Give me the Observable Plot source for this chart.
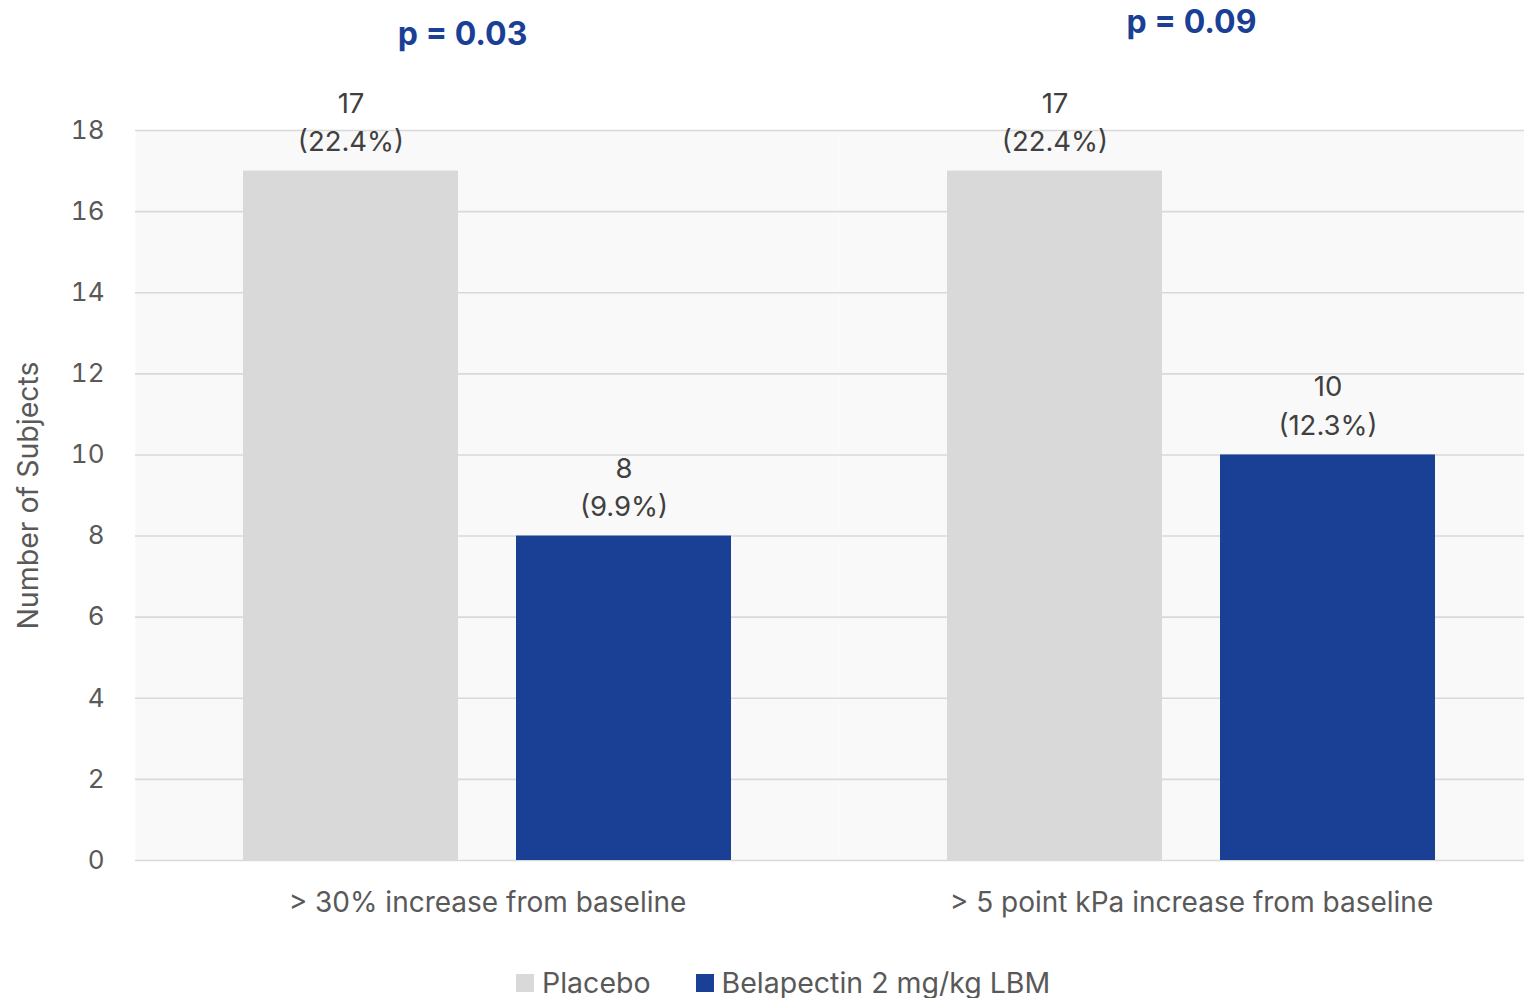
<!DOCTYPE html>
<html>
<head>
<meta charset="utf-8">
<script src="https://cdn.jsdelivr.net/npm/d3@7"></script>
<script src="https://cdn.jsdelivr.net/npm/@observablehq/plot@0.6"></script>
<style>
  html, body { margin: 0; padding: 0; background: #fff; overflow: hidden; }
  #wrap { width: 1524px; overflow: hidden; }
  #wrap svg { max-width: none !important; }
  #legend { display: flex; align-items: center; font-family: Inter, sans-serif; font-size: 28.5px; color: #595959; margin-left: 516px; margin-top: 25px; }
  .sw { width: 18px; height: 18px; display: inline-block; margin-right: 8px; }
  .item { display: flex; align-items: center; margin-right: 45px; }
</style>
</head>
<body>
<div id="wrap"><div id="chart"></div></div>
<div id="legend"></div>
<script>
const groups = ["> 30% increase from baseline", "> 5 point kPa increase from baseline"];
const series = ["Placebo", "Belapectin 2 mg/kg LBM"];
const colors = ["#d9d9d9", "#1a4096"];
const placeboCounts = [17, 17];
const belapectinCounts = [8, 10];
const placeboPct = [22.4, 22.4];
const belapectinPct = [9.9, 12.3];
const pValues = ["p = 0.03", "p = 0.09"];
const yTicks = [0, 2, 4, 6, 8, 10, 12, 14, 16, 18];
const yTitle = "Number of Subjects";

const rows = [];
groups.forEach((g, i) => {
  rows.push({group: g, series: series[0], value: placeboCounts[i], pct: placeboPct[i]});
  rows.push({group: g, series: series[1], value: belapectinCounts[i], pct: belapectinPct[i]});
});
rows.forEach(d => d.label = `${d.value}\n(${d.pct.toFixed(1)}%)`);
const pRows = groups.map((g, i) => ({group: g, p: pValues[i]}));

const font = "Inter, sans-serif";
const chart = Plot.plot({
  width: 1543,
  height: 940,
  marginLeft: 134,
  marginRight: 0,
  marginTop: 130,
  marginBottom: 80,
  style: {fontFamily: font, fontSize: "26px", color: "#595959", background: "transparent", overflow: "visible", maxWidth: "none"},
  fx: {domain: groups, padding: 0, label: null, axis: null},
  x: {domain: series, paddingInner: 0.2125, paddingOuter: 0.394, axis: null},
  y: {domain: [0, 18], ticks: yTicks, label: null, axis: null},
  color: {domain: series, range: colors},
  marks: [
    Plot.frame({fill: "#f9f9f9", stroke: null}),
    Plot.ruleY(yTicks, {stroke: "#d9d9d9", strokeWidth: 1.6}),
    Plot.axisY({ticks: yTicks, tickSize: 0, tickPadding: 31, label: null, fontSize: 26}),
    Plot.axisY({ticks: [], tickSize: 0, label: yTitle, labelAnchor: "center", labelArrow: "none", labelOffset: 118, fontSize: 28.5}),
    Plot.axisFx({tickSize: 0, tickPadding: 32, label: null, fontSize: 28, anchor: "bottom"}),
    Plot.barY(rows, {fx: "group", x: "series", y: "value", fill: "series"}),
    Plot.text(rows, {fx: "group", x: "series", y: "value", text: "label", lineAnchor: "bottom", lineHeight: 1.4, dy: -20, fill: "#404040", fontSize: 27.5}),
    Plot.text(pRows.filter((d, i) => i === 0), {fx: "group", frameAnchor: "top", text: "p", dy: -108, dx: -25, fill: "#1a4096", fontWeight: "bold", fontSize: 32}),
    Plot.text(pRows.filter((d, i) => i === 1), {fx: "group", frameAnchor: "top", text: "p", dy: -120, dx: 0, fill: "#1a4096", fontWeight: "bold", fontSize: 32})
  ]
});
document.getElementById("chart").appendChild(chart);

const legend = document.getElementById("legend");
series.forEach((s, i) => {
  const item = document.createElement("div");
  item.className = "item";
  const sw = document.createElement("span");
  sw.className = "sw";
  sw.style.background = colors[i];
  const t = document.createElement("span");
  t.textContent = s;
  item.appendChild(sw);
  item.appendChild(t);
  legend.appendChild(item);
});
</script>
</body>
</html>
